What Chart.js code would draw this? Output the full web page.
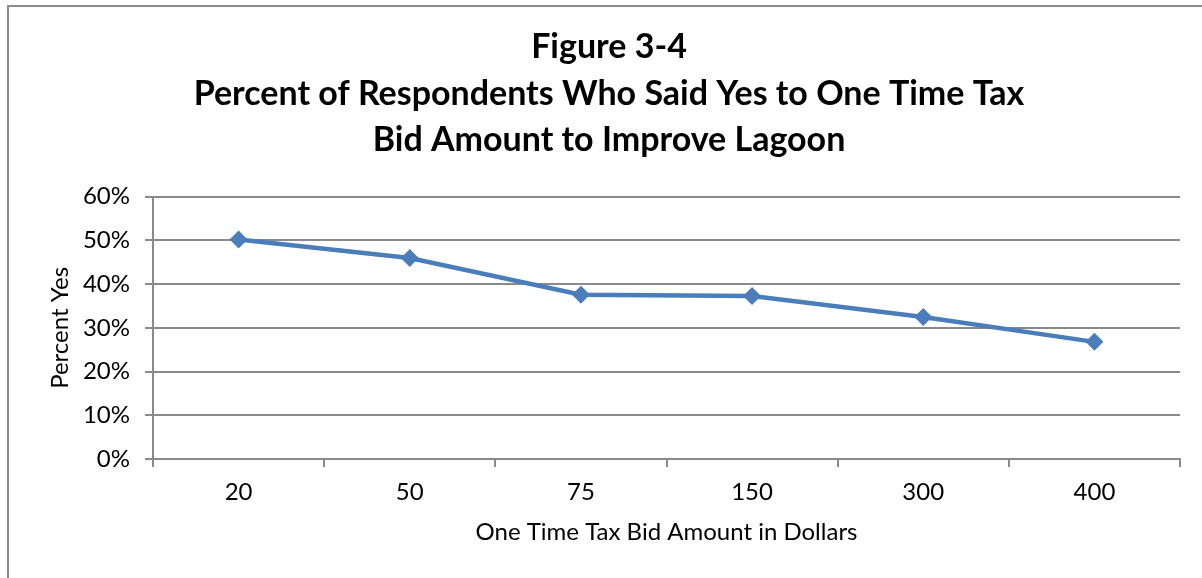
<!DOCTYPE html>
<html lang="en">
<head>
    <meta charset="UTF-8">
    <title>Figure 3-4</title>
    <script src="https://cdn.jsdelivr.net/npm/chart.js"></script>
    <style>
        body { margin: 0; background: #fff; overflow: hidden; }
        .frame {
            position: absolute; left: 7px; top: 5px;
            width: 1300px; height: 700px;
            border: 2px solid #8c8c8c;
        }
        canvas { position: absolute; left: 0; top: 0; }
    </style>
</head>
<body>
    <div class="frame"></div>
    <canvas id="chart" width="1202" height="578"></canvas>

    <script>
        // data
        const bidAmounts = ['20', '50', '75', '150', '300', '400'];
        const percentYes = [50.2, 46.0, 37.6, 37.3, 32.5, 26.8];
        const titleLines = [
            'Figure 3-4',
            'Percent of Respondents Who Said Yes to One Time Tax',
            'Bid Amount to Improve Lagoon'
        ];

        const FONT = 'Lato, "Open Sans", sans-serif';
        const GREY = '#8a8a8a';

        new Chart(document.getElementById('chart'), {
            type: 'line',
            data: {
                labels: bidAmounts,
                datasets: [{
                    data: percentYes,
                    borderColor: '#4a7ebb',
                    backgroundColor: '#4a7ebb',
                    borderWidth: 4.5,
                    pointStyle: 'rectRot',
                    pointRadius: 9,
                    pointBorderWidth: 0,
                    tension: 0
                }]
            },
            options: {
                responsive: false,
                animation: false,
                // left padding shifts the title centre to match the figure
                layout: { padding: { left: 38, right: 22, top: 0, bottom: 0 } },
                plugins: {
                    legend: { display: false },
                    tooltip: { enabled: false },
                    title: {
                        display: true,
                        text: titleLines,
                        color: '#000',
                        font: { family: FONT, size: 34, weight: 'bold', lineHeight: 1.37 },
                        padding: { top: 24, bottom: 33 }
                    }
                },
                scales: {
                    x: {
                        offset: true,
                        grid: {
                            offset: true,
                            drawOnChartArea: false,
                            drawTicks: true,
                            tickLength: 8,
                            color: GREY,
                            lineWidth: 2
                        },
                        border: { color: GREY, width: 2 },
                        ticks: { color: '#000', font: { family: FONT, size: 24 }, padding: 11 },
                        title: {
                            display: true,
                            text: 'One Time Tax Bid Amount in Dollars',
                            color: '#000',
                            font: { family: FONT, size: 24 },
                            padding: { top: 0, bottom: 31 }
                        },
                        afterFit: (s) => { s.height = 119; }
                    },
                    y: {
                        min: 0,
                        max: 60,
                        grid: { color: GREY, lineWidth: 2, tickLength: 8 },
                        border: { color: GREY, width: 2 },
                        ticks: {
                            stepSize: 10,
                            color: '#000',
                            font: { family: FONT, size: 24 },
                            padding: 15,
                            callback: (v) => v + '%'
                        },
                        title: {
                            display: true,
                            text: 'Percent Yes',
                            color: '#000',
                            font: { family: FONT, size: 24 },
                            padding: { top: 8, bottom: 0 }
                        },
                        afterFit: (s) => { s.width = 115; }
                    }
                }
            }
        });
    </script>
</body>
</html>
